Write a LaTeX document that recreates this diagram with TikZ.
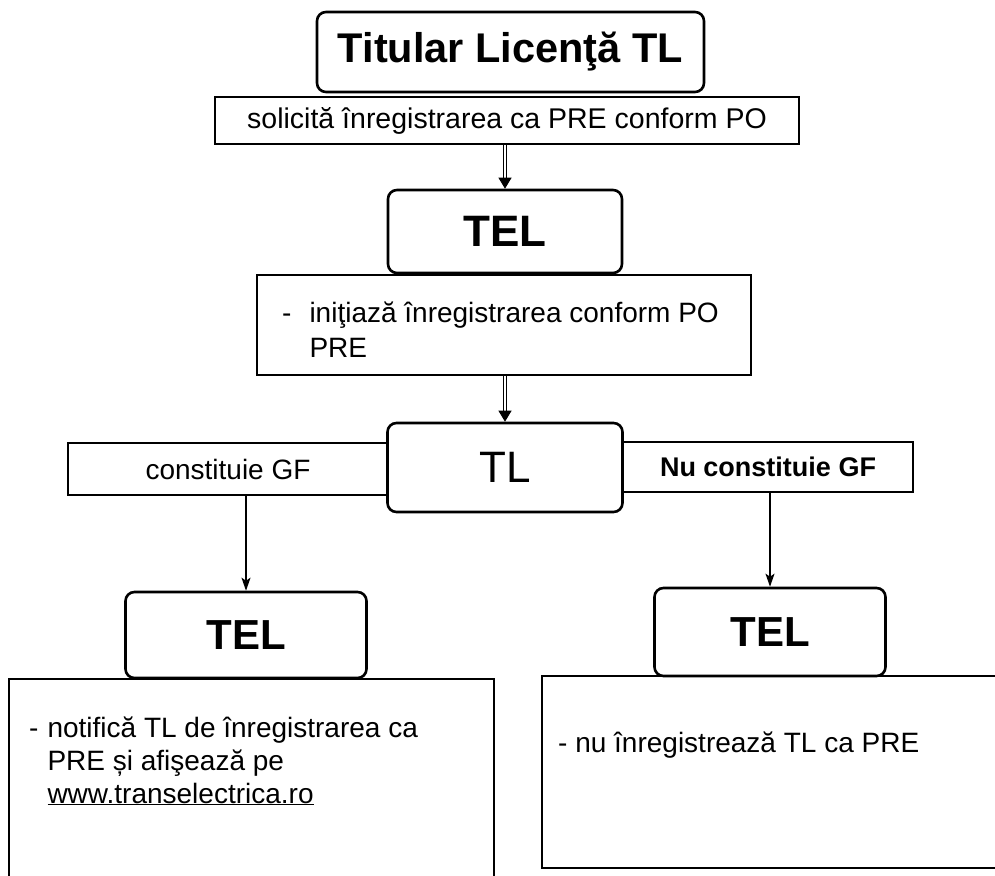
\documentclass[tikz,border=0pt]{standalone}
\usepackage{fontspec}
\setmainfont{Liberation Sans}
\usetikzlibrary{arrows.meta}
\begin{document}
\begin{tikzpicture}[x=1pt,y=-1pt,
  rbox/.style={draw, line width=2.6pt, rounded corners=9pt, inner sep=0pt},
  sbox/.style={draw, line width=1.8pt, inner sep=0pt},
  dblarrow/.style={double, double distance=2.8pt, line width=1pt, -{Triangle[length=11pt,width=13pt]}},
  sarrow/.style={line width=1.6pt, -{Stealth[length=13pt,width=9pt,inset=3pt]}},
  teltxt/.style={font=\fontsize{42}{48}\selectfont\bfseries}]
\useasboundingbox (0,0) rectangle (995,875);
\clip (0,0) rectangle (995,875);

% boxes
\node[sbox, minimum width=584pt, minimum height=47pt, font=\fontsize{28.5}{32}\selectfont] (sol) at (507,120.5) {solicită înregistrarea ca PRE conform PO};
\node[rbox, fill=white, minimum width=387pt, minimum height=80pt, font=\fontsize{41.5}{48}\selectfont\bfseries] (tit) at (510.5,52) {Titular Licenţă TL};
\node[rbox, minimum width=234pt, minimum height=83pt, font=\fontsize{44}{50}\selectfont\bfseries] (tel1) at (505,231.5) {TEL};
\node[sbox, minimum width=494pt, minimum height=100pt] (ini) at (504,325) {};
\node[anchor=base west, inner sep=0pt, font=\fontsize{28}{35}\selectfont] (initxt) at (282,322)
  {\begin{tabular}[t]{@{}l@{\hspace{18pt}}l@{}}-&iniţiază înregistrarea conform PO\\&PRE\end{tabular}};
\node[rbox, minimum width=235pt, minimum height=89pt, font=\fontsize{44}{50}\selectfont] (tl) at (505,467.5) {TL};
\node[sbox, minimum width=320pt, minimum height=52pt, font=\fontsize{28}{32}\selectfont] (gfl) at (228,469) {constituie GF};
\node[sbox, minimum width=290pt, minimum height=50pt, font=\fontsize{27}{30}\selectfont\bfseries] (gfr) at (768,467) {Nu constituie GF};
\node[rbox, minimum width=241pt, minimum height=86pt, teltxt] (tel2) at (246,635) {TEL};
\node[rbox, minimum width=231pt, minimum height=88pt, teltxt] (tel3) at (770,632) {TEL};
\node[sbox, minimum width=485pt, minimum height=212pt] (bl) at (251.5,785) {};
\node[sbox, minimum width=465pt, minimum height=192pt] (br) at (774.5,772) {};
\node[anchor=base west, inner sep=0pt, font=\fontsize{28}{33}\selectfont] (bltxt) at (29,737)
  {\begin{tabular}[t]{@{}l@{\hspace{9pt}}l@{}}-&notifică TL de înregistrarea ca\\&PRE și afişează pe\\&\underline{www.transelectrica.ro}\end{tabular}};
\node[anchor=base west, inner sep=0pt, font=\fontsize{28}{33}\selectfont] (brtxt) at (558,752)
  {- nu înregistrează TL ca PRE};

% connectors
\draw[dblarrow] (sol.south -| tel1.north) -- (tel1.north);
\draw[dblarrow] (ini.south -| tl.north) -- (tl.north);
\draw[sarrow] (gfl.south -| tel2.north) -- (tel2.north);
\draw[sarrow] (gfr.south -| tel3.north) -- (tel3.north);
\end{tikzpicture}
\end{document}
